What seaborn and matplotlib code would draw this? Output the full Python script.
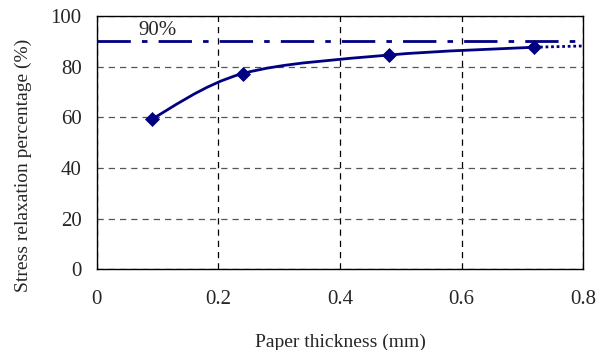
import matplotlib
matplotlib.use("Agg")
import matplotlib.pyplot as plt
from matplotlib.path import Path
from matplotlib.patches import PathPatch
import numpy as np
import pandas as pd
import seaborn as sns

# data
thickness = [0.09, 0.24, 0.48, 0.72]
relaxation = [59.3, 77.3, 84.6, 87.7]
extend_x = [0.72, 0.80]
extend_y = [87.7, 88.2]
target = 90
x_ticks = [0, 0.2, 0.4, 0.6, 0.8]
y_ticks = [0, 20, 40, 60, 80, 100]

navy = "#000080"

sns.set_style("white")
plt.rcParams['font.family'] = ['Liberation Serif', 'DejaVu Serif']
plt.rcParams['font.size'] = 15

fig = plt.figure(figsize=(5.98, 3.5), dpi=100)
ax = fig.add_axes([0.162, 0.231, 0.813, 0.723])

# smoothed curve (Catmull-Rom style bezier through the data points)
pts = np.column_stack([thickness, relaxation])
verts = [tuple(pts[0])]
codes = [Path.MOVETO]
for i in range(len(pts) - 1):
    p0 = pts[max(i - 1, 0)]
    p1, p2 = pts[i], pts[i + 1]
    p3 = pts[min(i + 2, len(pts) - 1)]
    c1 = p1 + (p2 - p0) / 6
    c2 = p2 - (p3 - p1) / 6
    verts += [tuple(c1), tuple(c2), tuple(p2)]
    codes += [Path.CURVE4] * 3
ax.add_patch(PathPatch(Path(verts, codes), facecolor="none", edgecolor=navy, lw=2, zorder=3))

df = pd.DataFrame({"x": thickness, "y": relaxation})
sns.scatterplot(data=df, x="x", y="y", marker="D", s=50, color=navy,
                edgecolor=navy, ax=ax, zorder=4)
sns.lineplot(x=extend_x, y=extend_y, color=navy, lw=2, ls=(0, (1, 1)), ax=ax, zorder=3)

ax.axhline(target, color=navy, lw=2, ls=(0, (12, 4, 2, 4)), zorder=3)
ax.text(0.1, target + 0.5, "90%", ha="center", va="bottom", fontsize=15)

ax.set_xlim(0, 0.8)
ax.set_ylim(0, 100)
ax.set_xticks(x_ticks)
ax.set_xticklabels(["0", "0.2", "0.4", "0.6", "0.8"])
ax.set_yticks(y_ticks)
ax.tick_params(axis="x", length=0, pad=15, labelsize=15)
ax.tick_params(axis="y", length=0, pad=11, labelsize=15)
ax.grid(True, axis="y", color="#555555", ls=(0, (5, 4)), lw=0.9)
ax.grid(True, axis="x", color="black", ls=(0, (5, 4)), lw=0.9)
for s in ax.spines.values():
    s.set_color("black")
    s.set_linewidth(1)
ax.set_xlabel("Paper thickness (mm)", fontsize=14)
ax.set_ylabel("Stress relaxation percentage (%)", fontsize=14)
ax.xaxis.set_label_coords(0.5, -0.255)
ax.yaxis.set_label_coords(-0.134, 0.41)

fig.savefig("out.png", dpi=100)
